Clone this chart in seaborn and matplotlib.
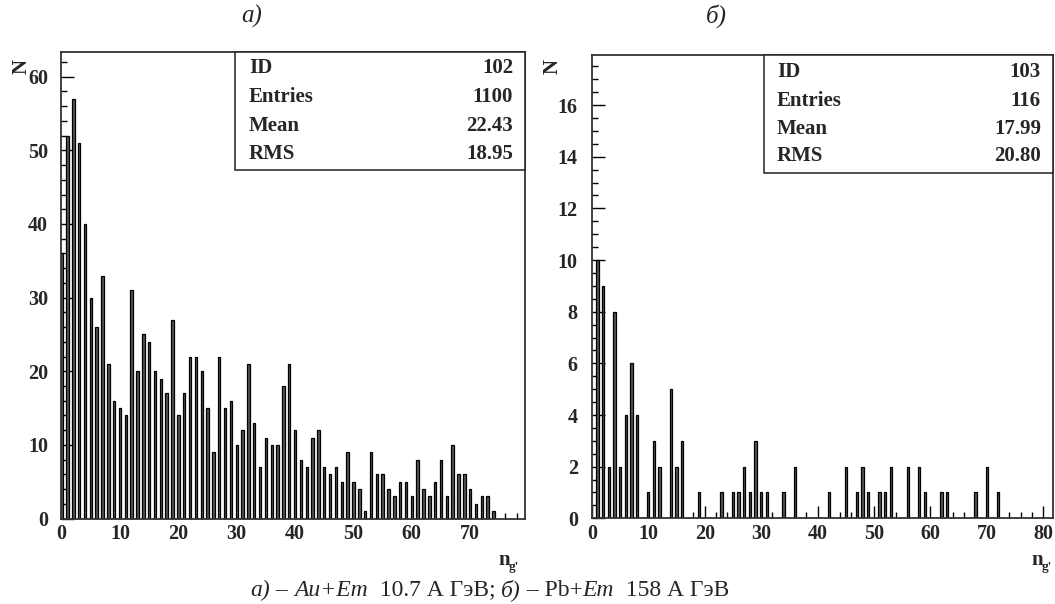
import matplotlib
matplotlib.use("Agg")
import matplotlib.pyplot as plt
from matplotlib.patches import Rectangle
from matplotlib.ticker import MultipleLocator
import numpy as np
import pandas as pd
import seaborn as sns

# ---------------- data ----------------
left_n = list(range(0, 75))
left_counts = [36, 52, 57, 51, 40, 30, 26, 33, 21, 16,
               15, 14, 31, 20, 25, 24, 20, 19, 17, 27,
               14, 17, 22, 22, 20, 15, 9, 22, 15, 16,
               10, 12, 21, 13, 7, 11, 10, 10, 18, 21,
               12, 8, 7, 11, 12, 7, 6, 7, 5, 9,
               5, 4, 1, 9, 6, 6, 4, 3, 5, 5,
               3, 8, 4, 3, 5, 8, 3, 10, 6, 6,
               4, 2, 3, 3, 1]

right_n = [1, 2, 3, 4, 5, 6, 7, 8, 10, 11, 12, 14, 15, 16, 19, 23, 25, 26, 27, 28,
           29, 30, 31, 34, 36, 42, 45, 47, 48, 49, 51, 52, 53, 56, 58, 59, 62, 63, 68, 70, 72]
right_counts = [10, 9, 2, 8, 2, 4, 6, 4, 1, 3, 2, 5, 2, 3, 1, 1, 1, 1, 2, 1,
                3, 1, 1, 1, 2, 1, 2, 1, 2, 1, 1, 1, 2, 2, 2, 1, 1, 1, 1, 2, 1]

left_xticks = [0, 10, 20, 30, 40, 50, 60, 70]
right_xticks = [0, 10, 20, 30, 40, 50, 60, 70, 80]
left_yticks = [0, 10, 20, 30, 40, 50, 60]
right_yticks = [0, 2, 4, 6, 8, 10, 12, 14, 16]

stat_labels = ["ID", "Entries", "Mean", "RMS"]
left_stats = ["102", "1100", "22.43", "18.95"]
right_stats = ["103", "116", "17.99", "20.80"]

panel_titles = ["а)", "б)"]
x_label = "n"
x_label_sub = "g'"
y_label = "N"

# ---------------- style ----------------
sns.set_theme(style="white")
plt.rcParams["font.family"] = ["Liberation Serif", "DejaVu Serif"]

W, H = 1055, 604
fig = plt.figure(figsize=(W / 100, H / 100), dpi=100)
fig.patch.set_facecolor("white")


def fx(px):
    return px / W


def fy(py):
    return 1 - py / H


axL = fig.add_axes([fx(60.7), fy(518.5), (525.0 - 60.7) / W, (518.5 - 51.7) / H])
axR = fig.add_axes([fx(591.7), fy(518.3), (1053.3 - 591.7) / W, (518.3 - 55.0) / H])


def draw_panel(ax, n, counts, xlim, ylim, xticks, yticks, xminor, yminor, ylabpad):
    df = pd.DataFrame({"n": n, "count": counts})
    sns.histplot(data=df, x="n", weights="count", discrete=True, shrink=0.42,
                 ax=ax, color="#555555", edgecolor="black", linewidth=0.9, alpha=1.0)
    ax.set_xlim(*xlim)
    ax.set_ylim(*ylim)
    ax.set_xlabel("")
    ax.set_ylabel("")
    ax.set_xticks(xticks)
    ax.set_xticklabels([str(t) for t in xticks], fontweight="bold", fontsize=14.5)
    ax.set_yticks(yticks)
    ax.set_yticklabels([str(t) for t in yticks], fontweight="bold", fontsize=14.5)
    ax.xaxis.set_minor_locator(MultipleLocator(xminor))
    ax.yaxis.set_minor_locator(MultipleLocator(yminor))
    ax.tick_params(axis="both", which="major", direction="in", length=9, width=1.0,
                   color="black", left=True, bottom=True, top=False, right=False)
    ax.tick_params(axis="both", which="minor", direction="in", length=4, width=1.0,
                   color="black", left=True, bottom=True, top=False, right=False)
    ax.tick_params(axis="x", which="major", pad=4)
    ax.tick_params(axis="y", which="major", pad=ylabpad)
    for s in ax.spines.values():
        s.set_color("#333333")
        s.set_linewidth(1.3)
    ax.grid(False)


draw_panel(axL, left_n, left_counts, (-0.17, 79.4), (0, 63.4),
           left_xticks, left_yticks, 2, 2, 9)
draw_panel(axR, right_n, right_counts, (-0.03, 81.8), (0, 17.94),
           right_xticks, right_yticks, 2, 0.5, 10)


def stats_box(x0, y0, x1, y1, rows_y, lab_x, val_x, values):
    rect = Rectangle((fx(x0), fy(y1)), (x1 - x0) / W, (y1 - y0) / H,
                     transform=fig.transFigure, facecolor="white",
                     edgecolor="#222222", linewidth=1.1, zorder=5)
    fig.add_artist(rect)
    for lab, val, y in zip(stat_labels, values, rows_y):
        fig.text(fx(lab_x), fy(y), lab, ha="left", va="center", fontsize=15,
                 fontweight="bold", zorder=6)
        fig.text(fx(val_x), fy(y), val, ha="right", va="center", fontsize=15,
                 fontweight="bold", zorder=6)


stats_box(235, 51.7, 525, 170, [68, 97, 126, 154], 249, 513, left_stats)
stats_box(764, 55, 1053.3, 173, [72, 101, 129, 156], 777, 1041, right_stats)

# axis labels
for xc in (22, 553):
    fig.text(fx(xc), fy(66), y_label, rotation=90, ha="center", va="center",
             fontsize=15, fontweight="bold")
for xn in (498, 1031):
    fig.text(fx(xn), fy(560), x_label, ha="left", va="center", fontsize=15,
             fontweight="bold")
    fig.text(fx(xn + 11), fy(567), x_label_sub, ha="left", va="center", fontsize=9.5,
             fontweight="bold")

# panel titles
fig.text(fx(252), fy(16), panel_titles[0], ha="center", va="center", fontsize=18,
         style="italic")
fig.text(fx(716), fy(16), panel_titles[1], ha="center", va="center", fontsize=18,
         style="italic")

# caption with mixed styles
pieces = [("а)", "italic"), (" – ", "normal"), ("Au+Em", "italic"),
          ("  10.7 А ГэВ; ", "normal"), ("б)", "italic"), (" – Pb+", "normal"),
          ("Em", "italic"), ("  158 А ГэВ", "normal")]
renderer = fig.canvas.get_renderer()
cap_size = 17
texts = []
for s, st in pieces:
    t = fig.text(0, fy(590), s, ha="left", va="center", fontsize=cap_size, style=st)
    texts.append(t)
widths = [t.get_window_extent(renderer).width for t in texts]
total = sum(widths)
x = 490 - total / 2
for t, w in zip(texts, widths):
    t.set_x(fx(x))
    x += w

fig.savefig("out.png", dpi=100, facecolor="white")
